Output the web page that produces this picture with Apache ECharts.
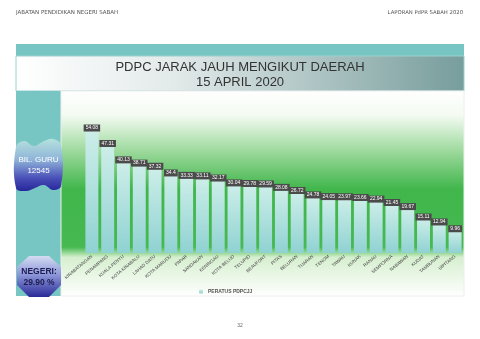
<!DOCTYPE html>
<html><head><meta charset="utf-8">
<style>html,body{margin:0;padding:0;background:#fff}#c{width:480px;height:339px}</style>
<script src="https://cdn.jsdelivr.net/npm/echarts@6/dist/echarts.min.js"></script>
</head><body><div id="c"></div>
<script>
const categories = ['KINABATANGAN','PENAMPANG','KUALA PENYU','KOTA KINABALU','LAHAD DATU','KOTA MARUDU','PAPAR','SANDAKAN','KENINGAU','KOTA BELUD','TELUPID','BEAUFORT','PITAS','BELURAN','TUARAN','TENOM','TAWAU','KUNAK','RANAU','SEMPORNA','NABAWAN','KUDAT','TAMBUNAN','SIPITANG'];
const values = [54.08,47.31,40.13,38.71,37.32,34.4,33.33,33.11,32.17,30.04,29.78,29.59,28.08,26.72,24.78,24.05,23.97,23.66,22.94,21.45,19.67,15.11,12.94,9.96];
const seriesName = 'PERATUS PDPCJJ';
const titleLines = ['PDPC JARAK JAUH MENGIKUT DAERAH','15 APRIL 2020'];

const chart = echarts.init(document.getElementById('c'));
const font = 'Liberation Sans, Arial, sans-serif';
chart.setOption({
  animation:false,
  grid:{left:84,right:17,top:116,bottom:86},
  legend:{data:[seriesName],left:194,top:284,itemWidth:4,itemHeight:4,itemGap:2,
    textStyle:{fontSize:5,fontWeight:'bold',color:'#555',fontFamily:font}},
  xAxis:{type:'category',data:categories,axisLine:{show:false},axisTick:{show:false},
    axisLabel:{interval:0,rotate:40,fontSize:4.5,color:'#444',margin:3,fontFamily:font}},
  yAxis:{type:'value',min:0,max:60,show:false,splitLine:{show:false}},
  graphic:[
    {type:'text',x:16,y:10,z:-1,style:{text:'JABATAN PENDIDIKAN NEGERI SABAH',fontSize:5.5,fill:'#555',fontFamily:'DejaVu Sans'}},
    {type:'text',x:463,y:10,z:-1,style:{text:'LAPORAN PdPR SABAH 2020',align:'right',fontSize:5.3,fill:'#555',fontFamily:'DejaVu Sans'}},
    {type:'rect',z:-10,shape:{x:16,y:44,width:448,height:12},style:{fill:'#78c6c3'}},
    {type:'rect',z:-10,shape:{x:16,y:56,width:448,height:35},style:{fill:new echarts.graphic.LinearGradient(0,0,1,0,[{offset:0,color:'#ffffff'},{offset:0.35,color:'#e3eaea'},{offset:1,color:'#779d9c'}])}},
    {type:'rect',z:-10,shape:{x:16,y:56,width:448,height:35},style:{fill:'none',stroke:'#9bd0cd',lineWidth:1}},
    {type:'text',z:5,x:240,y:60,style:{text:titleLines.join('\n'),fontSize:13,lineHeight:15,fill:'#333',align:'center',fontFamily:font}},
    {type:'rect',z:-10,shape:{x:16,y:91,width:45,height:205},style:{fill:'#78c6c3'}},
    {type:'rect',z:-10,shape:{x:61,y:91,width:403,height:205},style:{stroke:'#eeeeee',lineWidth:1,fill:new echarts.graphic.LinearGradient(0,0,0,1,[{offset:0,color:'#ffffff'},{offset:0.12,color:'#f4fbf2'},{offset:0.3,color:'#9ad89a'},{offset:0.48,color:'#40b64b'},{offset:0.76,color:'#46b950'},{offset:0.81,color:'#d6efcf'},{offset:1,color:'#ffffff'}])}},
    {type:'polygon',z:2,shape:{smooth:0.4,points:[[16,147],[24,141],[34,146],[44,141],[53,139],[61,145],[61,186],[53,190],[44,185],[35,188],[26,191],[16,188]]},
      style:{fill:new echarts.graphic.LinearGradient(0,0,0,1,[{offset:0,color:'#b4e2de'},{offset:0.4,color:'#8fb4d8'},{offset:0.75,color:'#4a50b8'},{offset:1,color:'#26269a'}])}},
    {type:'text',z:3,x:38.5,y:154,style:{text:'BIL. GURU\n12545',align:'center',fontSize:8,lineHeight:11,fill:'#ffffff',fontFamily:font}},
    {type:'polygon',z:2,shape:{points:[[29,256],[49,256],[61,267],[61,285],[49,297],[29,297],[17,285],[17,267]]},
      style:{fill:new echarts.graphic.LinearGradient(0,0,0,1,[{offset:0,color:'#d4dcf2'},{offset:0.45,color:'#8e98d8'},{offset:1,color:'#2a2a98'}])}},
    {type:'text',z:3,x:39,y:266,style:{text:'NEGERI:\n29.90 %',align:'center',fontSize:8.5,lineHeight:11,fontWeight:'bold',fill:'#1c1c52',fontFamily:font}},
    {type:'text',x:240,y:323,style:{text:'32',align:'center',fontSize:5,fill:'#666',fontFamily:font}}
  ],
  series:[{
    name:seriesName,type:'bar',data:values,barCategoryGap:'18%',
    itemStyle:{color:new echarts.graphic.LinearGradient(0,0,0,1,[{offset:0,color:'#cdeee9'},{offset:1,color:'#8fd2d2'}])},
    label:{show:true,position:'top',distance:-2,fontSize:5,color:'#fff',backgroundColor:'#4b4b4b',padding:[1,2,1,2],fontFamily:font}
  }]
});
</script></body></html>
